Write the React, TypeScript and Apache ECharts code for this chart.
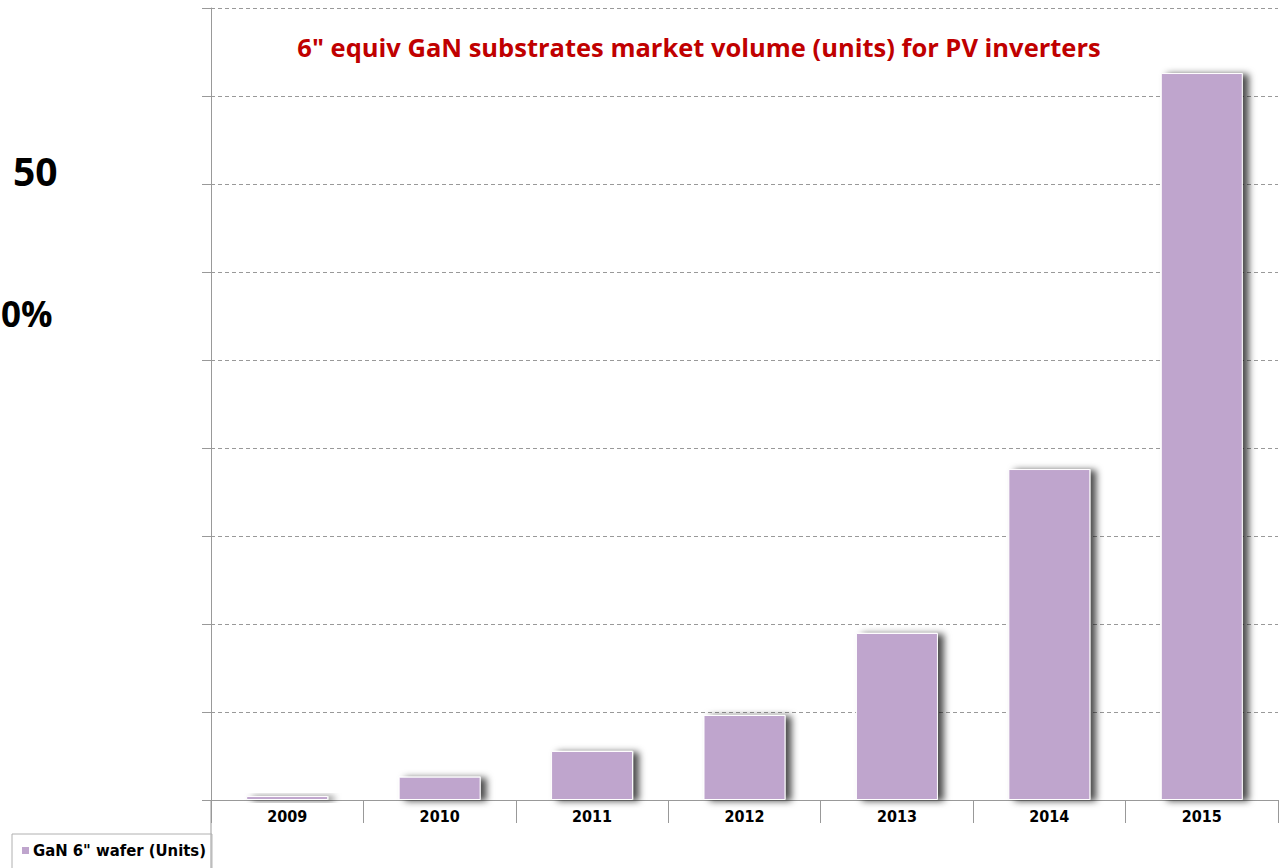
import React, { useEffect, useRef } from "react";
import * as echarts from "echarts";

const categories = ["2009", "2010", "2011", "2012", "2013", "2014", "2015"];
const waferUnits = [45, 265, 557, 966, 1898, 3761, 8261];
const seriesName = 'GaN 6" wafer (Units)';
const titleText = '6" equiv GaN substrates market volume (units) for PV inverters';
const fragmentTexts = ["50", "0%"];

export default function App() {
  const ref = useRef<HTMLDivElement>(null);
  useEffect(() => {
    if (!ref.current) return;
    const chart = echarts.init(ref.current, undefined, { renderer: "svg" });
    const narrow = "'Liberation Sans Narrow', 'Arial Narrow', 'DejaVu Sans Condensed', sans-serif";
    const sans = "'Open Sans', 'Noto Sans', sans-serif";
    chart.setOption({
      animation: false,
      backgroundColor: "#ffffff",
      grid: { left: 211, right: 5, top: 8, bottom: 68, containLabel: false },
      title: {
        text: titleText,
        left: 694,
        textAlign: "center",
        top: 29,
        textStyle: {
          color: "#C00000",
          fontSize: 25.5,
          fontWeight: "bold",
          fontFamily: sans,
        },
      },
      legend: {
        left: 12,
        top: 834,
        padding: [8, 6, 10, 8],
        borderColor: "#b0b0b0",
        borderWidth: 1,
        itemWidth: 9,
        itemHeight: 9,
        itemGap: 4,
        icon: "rect",
        data: [seriesName],
        textStyle: {
          fontSize: 16.5,
          fontWeight: "bold",
          color: "#000",
          fontFamily: narrow,
          padding: [0, 0, 0, -2],
        },
      },
      xAxis: {
        type: "category",
        data: categories,
        axisLine: { show: true, lineStyle: { color: "#999", width: 1 } },
        axisTick: {
          show: true,
          alignWithLabel: false,
          length: 23,
          lineStyle: { color: "#999" },
        },
        axisLabel: {
          color: "#000",
          fontSize: 16,
          fontWeight: "bold",
          fontFamily: narrow,
          margin: 8,
        },
      },
      yAxis: {
        type: "value",
        min: 0,
        max: 9000,
        interval: 1000,
        axisLine: { show: true, lineStyle: { color: "#999", width: 1 } },
        axisTick: { show: true, length: 9, lineStyle: { color: "#999" } },
        axisLabel: { show: false },
        splitLine: {
          show: true,
          lineStyle: { color: "#999", type: [4, 3], width: 1 },
        },
      },
      series: [
        {
          name: seriesName,
          type: "bar",
          data: waferUnits,
          barWidth: 82,
          itemStyle: {
            color: "#BFA5CD",
            borderColor: "#ffffff",
            borderWidth: 1,
            shadowColor: "rgba(0,0,0,0.7)",
            shadowBlur: 7,
            shadowOffsetX: 6,
            shadowOffsetY: 1,
          },
        },
      ],
      graphic: [
        {
          type: "line",
          shape: { x1: 211, y1: 800, x2: 211, y2: 868 },
          style: { stroke: "#999", lineWidth: 1 },
        },
        {
          type: "text",
          x: 13,
          y: 170,
          style: {
            text: fragmentTexts[0],
            fontSize: 39,
            fontWeight: "bold",
            fontFamily: sans,
            fill: "#000",
            verticalAlign: "middle",
          },
        },
        {
          type: "text",
          x: 1,
          y: 313,
          style: {
            text: fragmentTexts[1],
            fontSize: 35,
            fontWeight: "bold",
            fontFamily: sans,
            fill: "#000",
            verticalAlign: "middle",
          },
        },
      ],
    });
    return () => chart.dispose();
  }, []);
  return (
    <div
      ref={ref}
      style={{ position: "fixed", left: 0, top: 0, width: 1283, height: 868 }}
    />
  );
}
